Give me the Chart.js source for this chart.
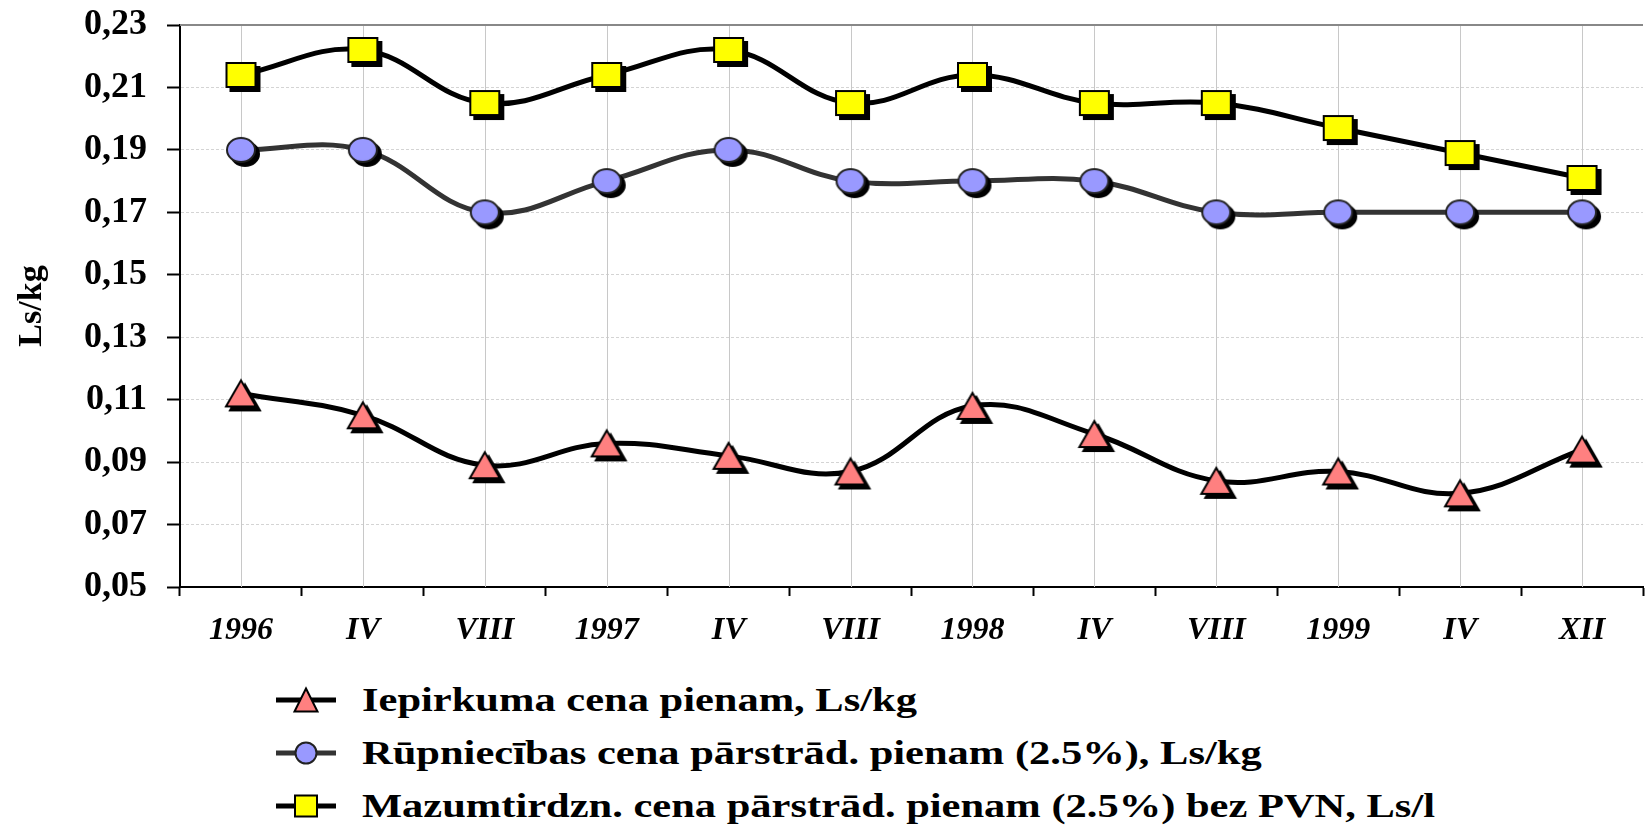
<!DOCTYPE html>
<html>
<head>
<meta charset="utf-8">
<script src="https://cdn.jsdelivr.net/npm/chart.js@4.4.0/dist/chart.umd.min.js"></script>
<style>
html, body { margin: 0; padding: 0; background: #fff; overflow: hidden; width: 1650px; height: 827px; }
#wrap { position: absolute; left: 0; top: 0; width: 1660px; height: 660px; }
#legend { position: absolute; left: 276px; top: 673px; font-family: "Liberation Serif", serif; font-weight: bold; font-size: 34px; color: #000; }
.row { height: 53px; display: flex; align-items: center; white-space: nowrap; }
.row canvas { margin-right: 26px; }
.row span { display: inline-block; transform: scaleX(1.25); transform-origin: left center; }
</style>
</head>
<body>
<div id="wrap"><canvas id="chart"></canvas></div>
<div id="legend"></div>
<script>
const months = ["1996", "IV", "VIII", "1997", "IV", "VIII", "1998", "IV", "VIII", "1999", "IV", "XII"];
const purchasePrice = [0.112, 0.105, 0.089, 0.096, 0.092, 0.087, 0.108, 0.099, 0.084, 0.087, 0.080, 0.094];
const industryPrice = [0.190, 0.190, 0.170, 0.180, 0.190, 0.180, 0.180, 0.180, 0.170, 0.170, 0.170, 0.170];
const retailPrice = [0.214, 0.222, 0.205, 0.214, 0.222, 0.205, 0.214, 0.205, 0.205, 0.197, 0.189, 0.181];
const seriesNames = [
    "Iepirkuma cena pienam, Ls/kg",
    "Rūpniecības cena pārstrād. pienam (2.5%), Ls/kg",
    "Mazumtirdzn. cena pārstrād. pienam (2.5%) bez PVN, Ls/l"
];

const FONT = '"Liberation Serif", serif';

function drawMarker(ctx, type, cx, cy, w, h, fill, stroke) {
    ctx.beginPath();
    if (type === "triangle") {
        ctx.moveTo(cx, cy - h / 2);
        ctx.lineTo(cx + w / 2, cy + h / 2);
        ctx.lineTo(cx - w / 2, cy + h / 2);
        ctx.closePath();
    } else if (type === "circle") {
        ctx.ellipse(cx, cy, w / 2, h / 2, 0, 0, Math.PI * 2);
    } else {
        ctx.rect(cx - w / 2, cy - h / 2, w, h);
    }
    ctx.fillStyle = fill;
    ctx.fill();
    ctx.lineWidth = 2;
    ctx.strokeStyle = stroke;
    ctx.stroke();
}

// marker image with a dark drop shadow, marker centred in the image
function markerImage(type, w, h, fill, stroke) {
    const c = document.createElement("canvas");
    c.width = w + 16;
    c.height = h + 16;
    const ctx = c.getContext("2d");
    const cx = c.width / 2, cy = c.height / 2;
    drawMarker(ctx, type, cx + 4, cy + 4, w, h, "#000", "#000");
    drawMarker(ctx, type, cx, cy, w, h, fill, stroke);
    return c;
}

function legendIcon(type, w, h, fill, stroke, lineColour) {
    const c = document.createElement("canvas");
    c.width = 60;
    c.height = 30;
    const ctx = c.getContext("2d");
    ctx.beginPath();
    ctx.moveTo(0, 15);
    ctx.lineTo(60, 15);
    ctx.lineWidth = 5;
    ctx.strokeStyle = lineColour;
    ctx.stroke();
    drawMarker(ctx, type, 30, 15, w, h, fill, stroke);
    return c;
}

const styles = [
    { type: "triangle", w: 30, h: 26, fill: "#FF8080", stroke: "#000", line: "#000" },
    { type: "circle", w: 28, h: 24, fill: "#9999FF", stroke: "#222", line: "#333" },
    { type: "square", w: 29, h: 24, fill: "#FFFF00", stroke: "#000", line: "#000" }
];
const seriesData = [purchasePrice, industryPrice, retailPrice];

// vertical grid at category centres and the top frame line
const framePlugin = {
    id: "frame",
    beforeDatasetsDraw(chart) {
        const { ctx, chartArea } = chart;
        const x = chart.scales.x;
        ctx.save();
        ctx.strokeStyle = "#c8c8c8";
        ctx.lineWidth = 1;
        months.forEach((m, i) => {
            const px = Math.round(x.getPixelForValue(i)) + 0.5;
            ctx.beginPath();
            ctx.moveTo(px, chartArea.top);
            ctx.lineTo(px, chartArea.bottom);
            ctx.stroke();
        });
        ctx.strokeStyle = "#888";
        ctx.lineWidth = 2;
        ctx.beginPath();
        ctx.moveTo(chartArea.left, chartArea.top);
        ctx.lineTo(chartArea.right, chartArea.top);
        ctx.stroke();
        ctx.restore();
    }
};

const chart = new Chart(document.getElementById("chart"), {
    type: "line",
    data: {
        labels: months,
        datasets: seriesData.map((d, i) => ({
            label: seriesNames[i],
            data: d,
            borderColor: styles[i].line,
            borderWidth: 5,
            tension: 0.4,
            fill: false,
            pointStyle: markerImage(styles[i].type, styles[i].w, styles[i].h, styles[i].fill, styles[i].stroke),
            pointRadius: 12
        }))
    },
    options: {
        responsive: true,
        maintainAspectRatio: false,
        devicePixelRatio: 1,
        animation: false,
        layout: { padding: { top: 25, right: 3, left: 0, bottom: 0 } },
        plugins: {
            legend: { display: false },
            tooltip: { enabled: false }
        },
        scales: {
            x: {
                offset: true,
                grid: {
                    offset: true,
                    drawOnChartArea: false,
                    tickLength: 9,
                    tickColor: "#000",
                    tickWidth: 2
                },
                border: { color: "#000", width: 2 },
                ticks: {
                    color: "#000",
                    padding: 16,
                    font: { family: FONT, size: 32, style: "italic", weight: "bold" }
                },
                afterFit(s) {
                    s.height = 73;
                    s.paddingLeft = 0;
                    s.paddingRight = 0;
                }
            },
            y: {
                min: 0.05,
                max: 0.23,
                ticks: {
                    stepSize: 0.02,
                    color: "#000",
                    padding: 20,
                    font: { family: FONT, size: 36, weight: "bold" },
                    callback: v => v.toFixed(2).replace(".", ",")
                },
                grid: {
                    color: "#d4d4d4",
                    lineWidth: 1,
                    tickColor: "#000",
                    tickLength: 13,
                    tickWidth: 2
                },
                border: { color: "#000", width: 2, dash: [3, 2] },
                title: {
                    display: true,
                    text: "Ls/kg",
                    color: "#000",
                    padding: { top: 12, bottom: 0 },
                    font: { family: FONT, size: 34, weight: "bold" }
                },
                afterFit(s) {
                    s.width = 180;
                    s.paddingTop = 0;
                    s.paddingBottom = 0;
                }
            }
        }
    },
    plugins: [framePlugin]
});

const legendEl = document.getElementById("legend");
seriesNames.forEach((name, i) => {
    const row = document.createElement("div");
    row.className = "row";
    const s = styles[i];
    row.appendChild(legendIcon(s.type, s.w - 7, s.h - 3, s.fill, s.stroke, s.line));
    const span = document.createElement("span");
    span.textContent = name;
    row.appendChild(span);
    legendEl.appendChild(row);
});
</script>
</body>
</html>
